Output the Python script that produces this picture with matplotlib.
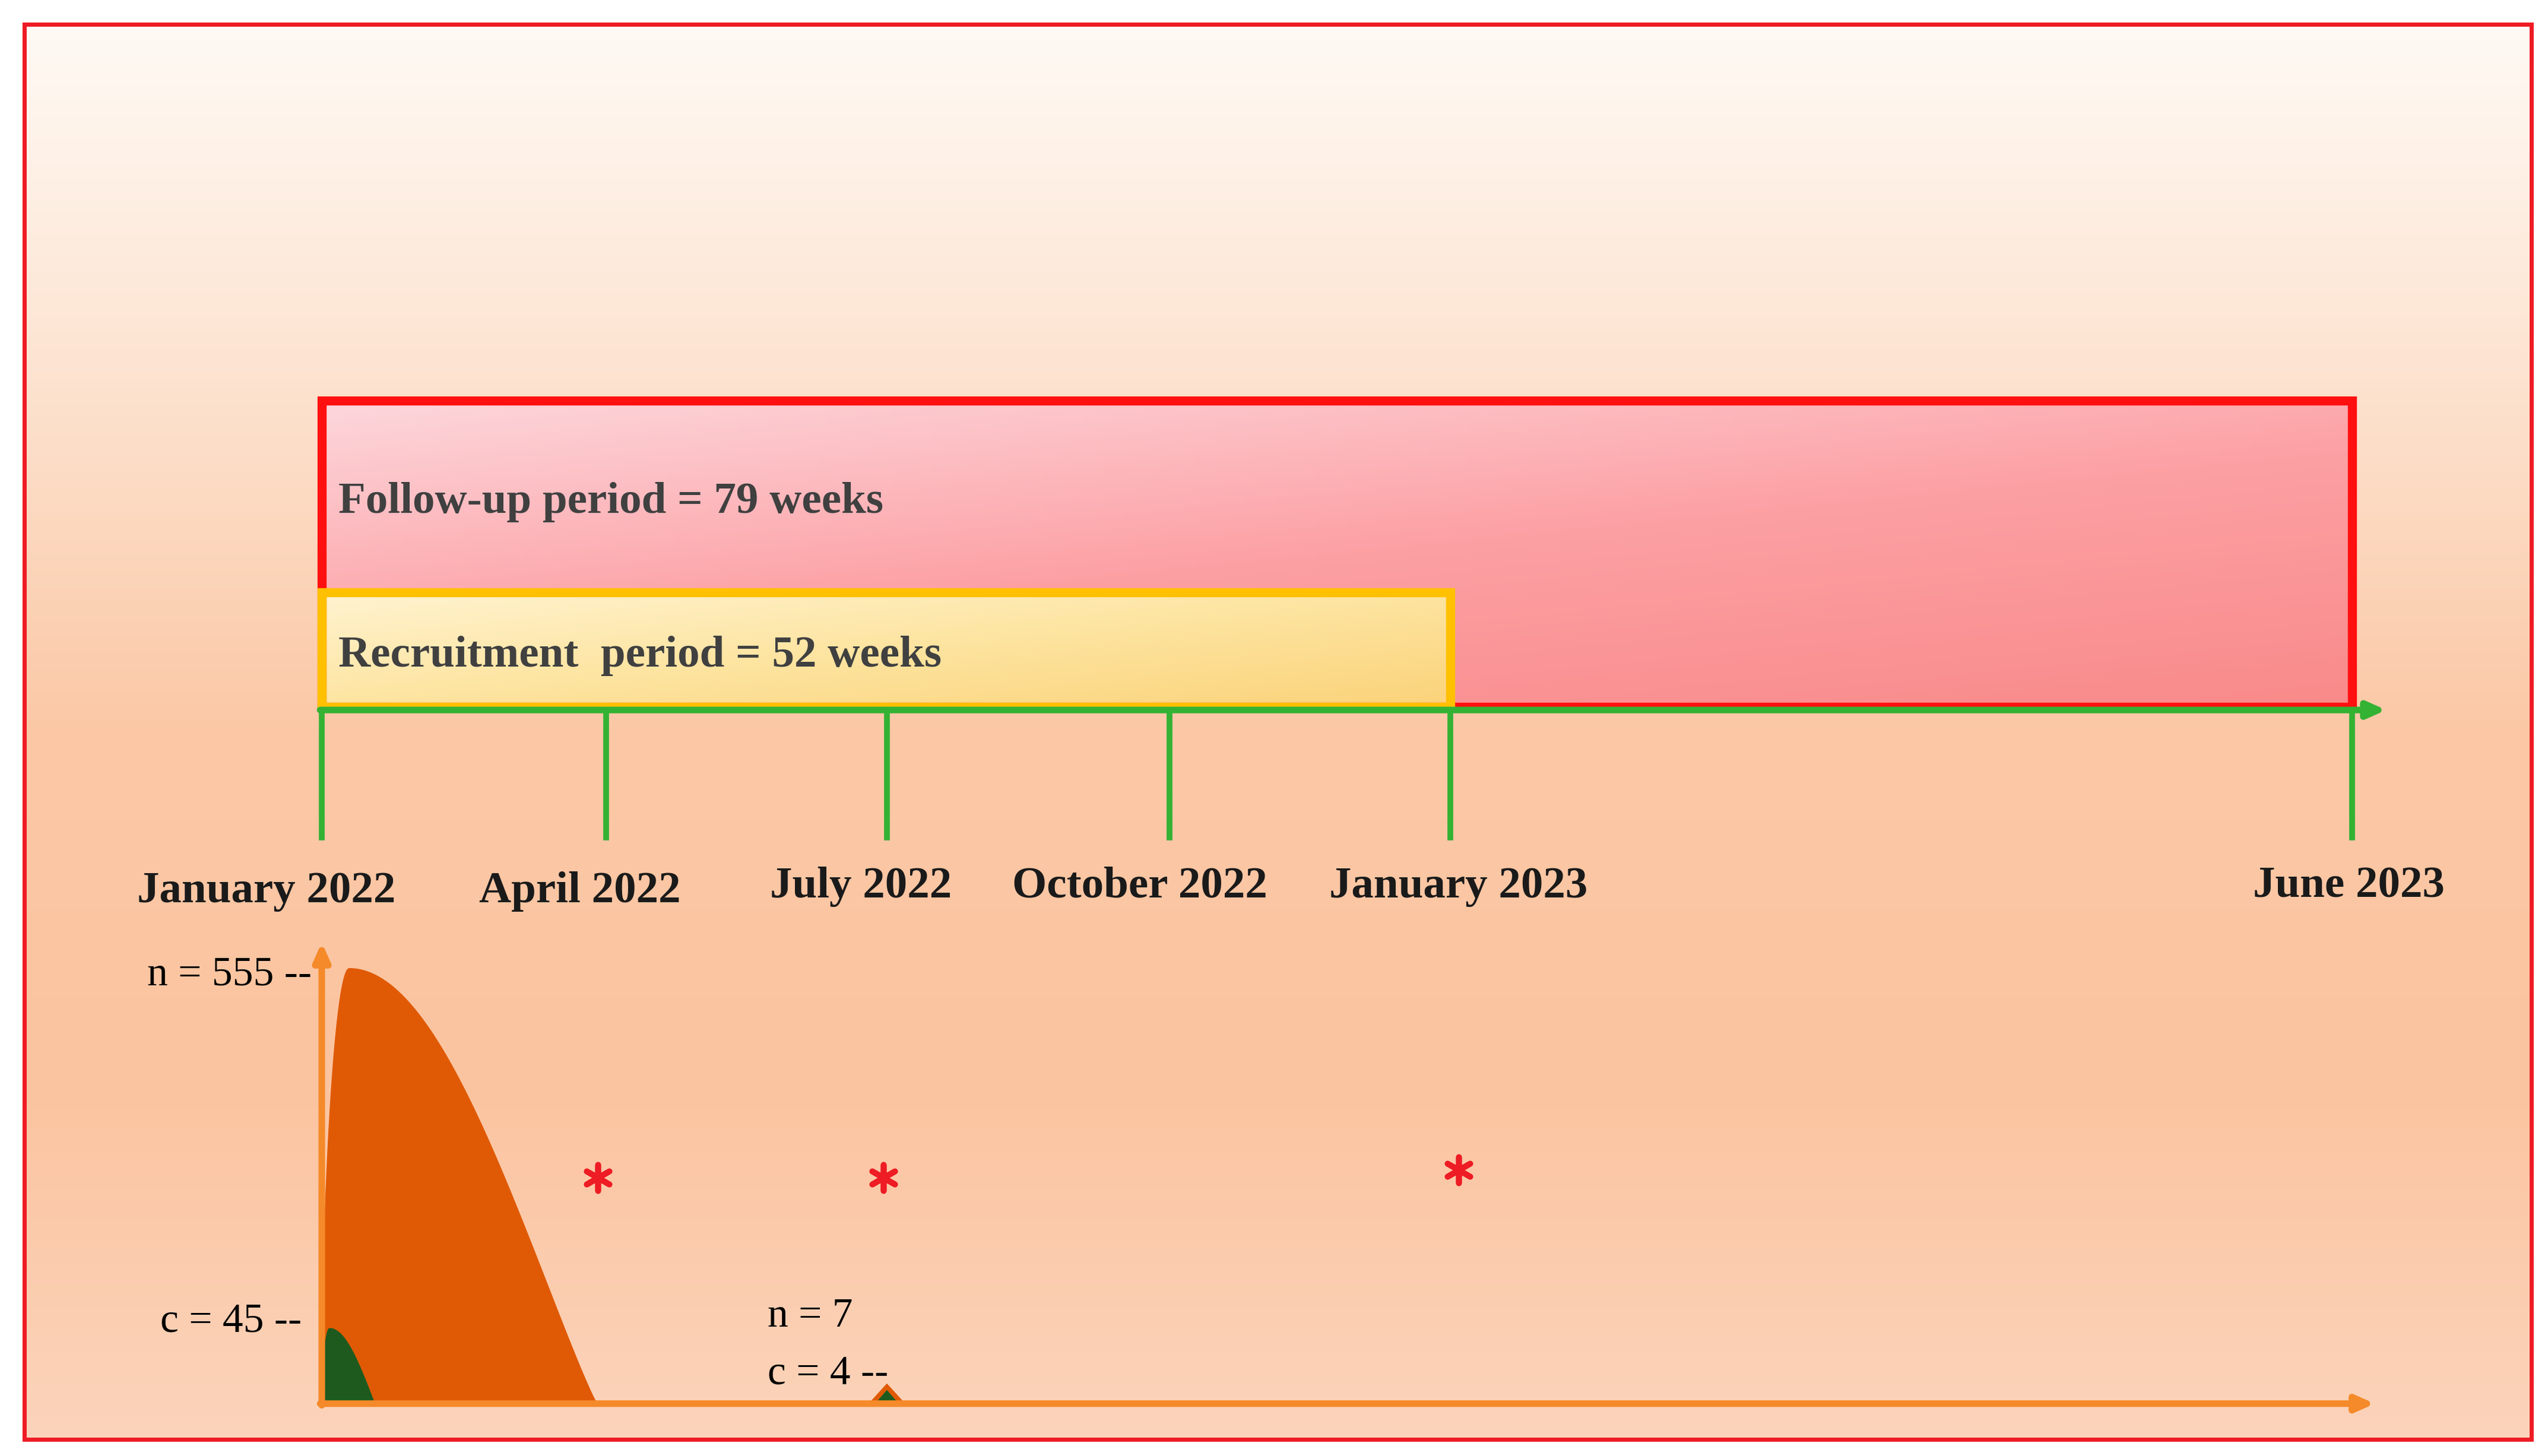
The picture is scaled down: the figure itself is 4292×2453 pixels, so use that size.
import numpy as np
import matplotlib.pyplot as plt
from matplotlib.colors import LinearSegmentedColormap
from matplotlib.patches import Rectangle, Polygon

tick_labels = ["January 2022", "April 2022", "July 2022", "October 2022", "January 2023", "June 2023"]
tick_x = [197, 371, 543, 716, 888, 1440]
label_x = [163, 355, 527, 698, 893, 1438]
label_y = [545, 545, 542, 542, 542, 542]
followup_text = "Follow-up period = 79 weeks"
recruit_text = "Recruitment  period = 52 weeks"
counts_main = ["n = 555", "c = 45"]
counts_july = ["n = 7", "c = 4"]
star_x = [366, 541, 893]
star_y = [720, 720, 715]

W, H = 1560, 890
fig = plt.figure(figsize=(42.92, 24.53), dpi=100)
ax = fig.add_axes([0, 0, 1, 1])
ax.set_xlim(0, W); ax.set_ylim(H, 0); ax.axis('off')

bg = LinearSegmentedColormap.from_list('bg', ['#fffaf5', '#fde3d0', '#fbc8a6', '#fbc4a0', '#fcd4bb'])
grad = np.linspace(0, 1, 256).reshape(-1, 1)
ax.imshow(grad, cmap=bg, extent=[15, 1550, 880, 15], aspect='auto', zorder=0)
ax.add_patch(Rectangle((15, 15), 1535, 865, fill=False, ec='#ee1c24', lw=5, zorder=10))

rg = LinearSegmentedColormap.from_list('rg', ['#fdd7dc', '#fca0a4', '#f98a8a'])
yy, xx = np.mgrid[0:1:100j, 0:1:200j]
ax.imshow(0.6 * yy + 0.4 * xx, cmap=rg, extent=[197, 1440, 432, 245], aspect='auto', zorder=1)
ax.add_patch(Rectangle((197, 245), 1243, 187, fill=False, ec='#ff1010', lw=11, zorder=3))
yg = LinearSegmentedColormap.from_list('yg', ['#fff3d0', '#fde4a0', '#fbd37a'])
ax.imshow(0.5 * yy + 0.5 * xx, cmap=yg, extent=[197, 888, 432, 362], aspect='auto', zorder=2)
ax.add_patch(Rectangle((197, 362), 691, 70, fill=False, ec='#ffc000', lw=11, zorder=4))

ax.text(207, 307, followup_text, fontsize=54, family='Liberation Serif', weight='bold', color='#404040', va='center', zorder=5)
ax.text(207, 401, recruit_text, fontsize=54, family='Liberation Serif', weight='bold', color='#404040', va='center', zorder=5)

ax.annotate('', xy=(1462, 434), xytext=(195, 434),
            arrowprops=dict(arrowstyle='-|>,head_length=1.8,head_width=0.8', color='#33b233', lw=8), zorder=6)
for x in tick_x:
    ax.plot([x, x], [434, 512], color='#33b233', lw=7, zorder=6)
for t, x, y in zip(tick_labels, label_x, label_y):
    ax.text(x, y, t, fontsize=54, family='Liberation Serif', weight='bold', color='#1a1a1a', ha='center', va='center')

ax.annotate('', xy=(1455, 858), xytext=(195, 858),
            arrowprops=dict(arrowstyle='-|>,head_length=1.8,head_width=0.8', color='#f58a2a', lw=8), zorder=6)
ax.annotate('', xy=(197, 575), xytext=(197, 860),
            arrowprops=dict(arrowstyle='-|>,head_length=1.8,head_width=0.8', color='#f58a2a', lw=8), zorder=6)

t = np.linspace(0, 1, 200)
xs = 197 + 168 * t
ys = 857 - 265 * np.where(t < 0.1, np.sin(t / 0.1 * np.pi / 2) ** 0.5, np.cos((t - 0.1) / 0.9 * np.pi / 2) ** 1.1)
ax.fill(np.r_[xs, 197], np.r_[ys, 857], color='#e05a05', zorder=5)
xs2 = 197 + 32 * t
ys2 = 857 - 45 * np.where(t < 0.15, np.sin(t / 0.15 * np.pi / 2) ** 0.5, np.cos((t - 0.15) / 0.85 * np.pi / 2))
ax.fill(np.r_[xs2, 197], np.r_[ys2, 857], color='#1e5a1e', zorder=5.5)
ax.add_patch(Polygon([[533, 857], [543, 846], [553, 857]], color='#e05a05', zorder=5))
ax.add_patch(Polygon([[537, 857], [543, 850], [549, 857]], color='#1e5a1e', zorder=5.5))

fs = 50
ax.text(90, 596, counts_main[0] + ' --', fontsize=fs, family='Liberation Serif', va='center')
ax.text(98, 808, counts_main[1] + ' --', fontsize=fs, family='Liberation Serif', va='center')
ax.text(470, 805, counts_july[0], fontsize=fs, family='Liberation Serif', va='center')
ax.text(470, 840, counts_july[1] + ' --', fontsize=fs, family='Liberation Serif', va='center')
ax.scatter(star_x, star_y, marker=(6, 2, 0), s=1000, color='#ee1c24', lw=7, zorder=7)

fig.savefig('out.png', dpi=100)
